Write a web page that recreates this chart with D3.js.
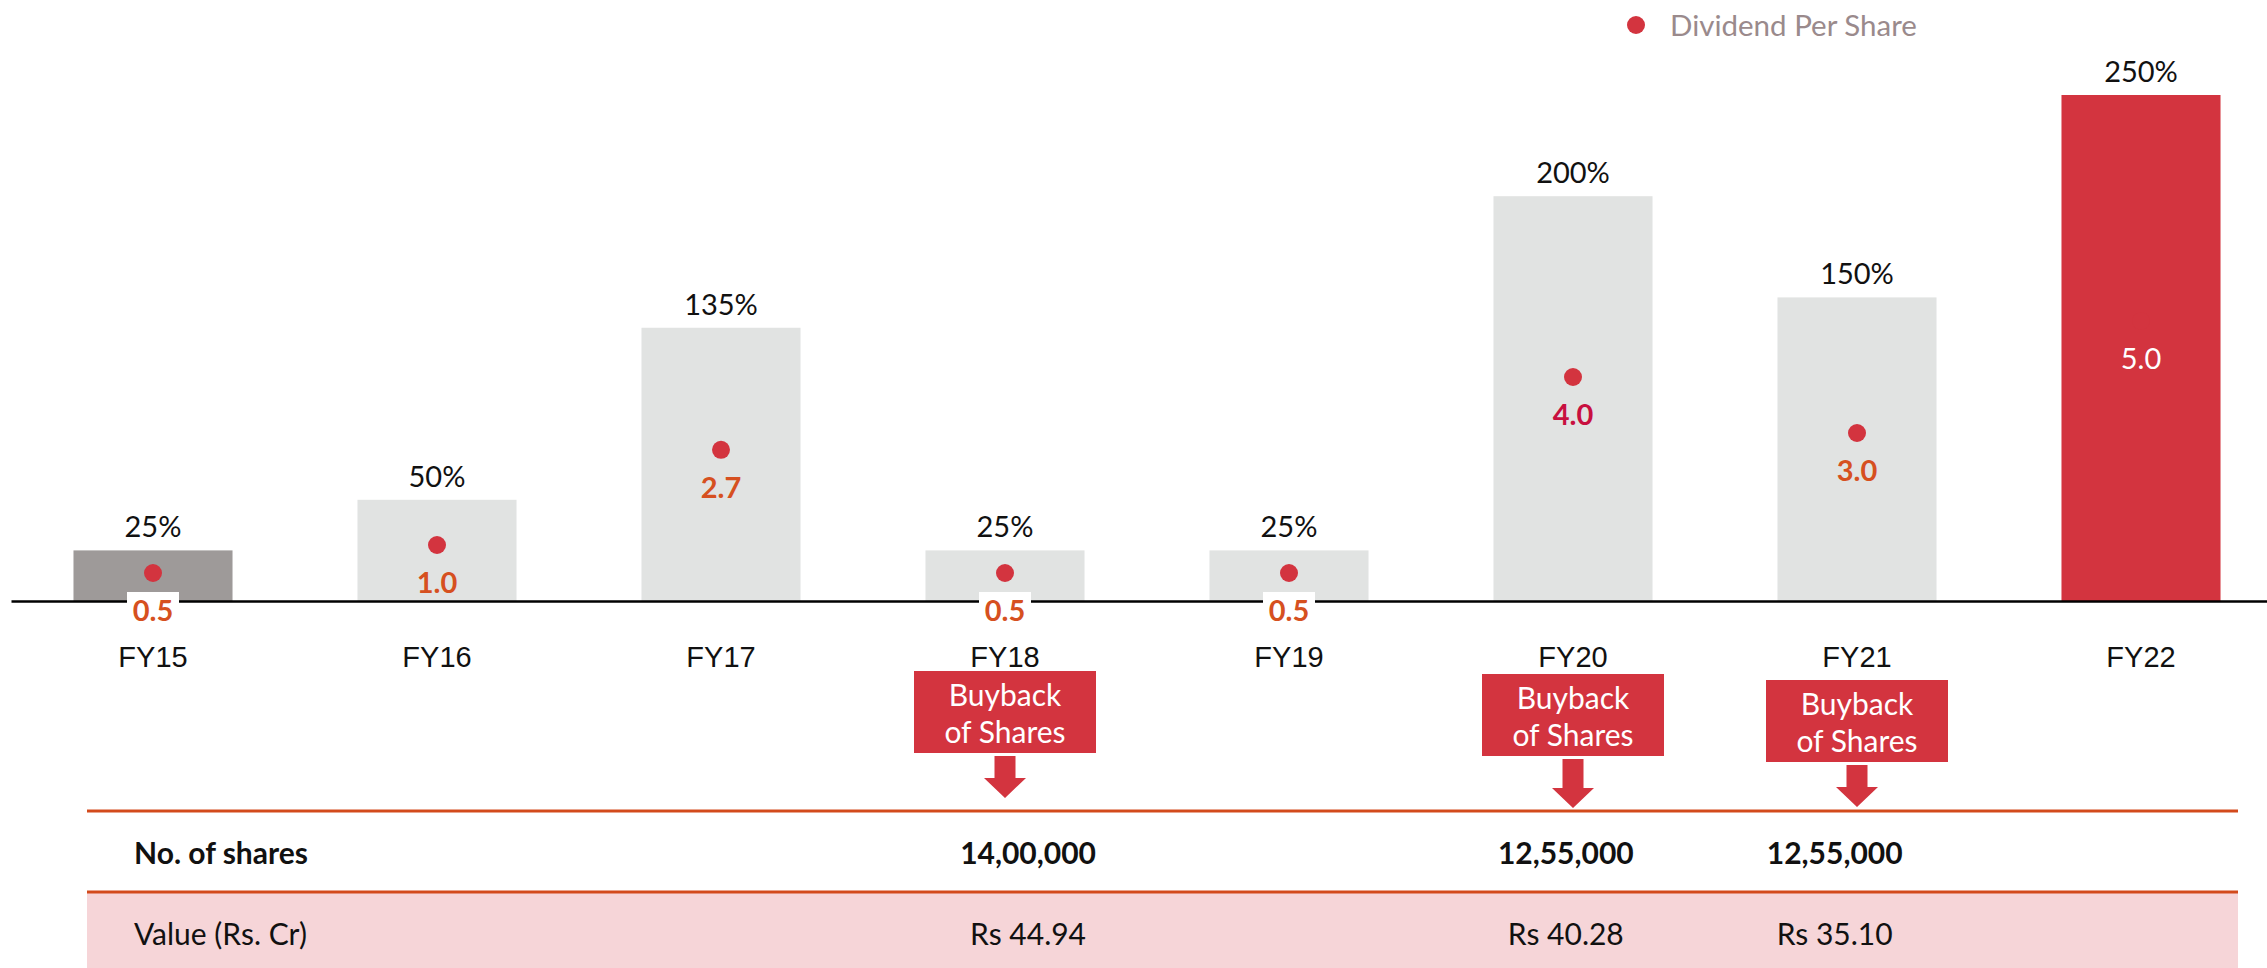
<!DOCTYPE html>
<html>
<head>
<meta charset="utf-8">
<script src="https://cdn.jsdelivr.net/npm/d3@7"></script>
<style>
  html, body { margin: 0; padding: 0; background: #fff; }
  svg { display: block; font-family: Lato, "Noto Sans", sans-serif; }
</style>
</head>
<body>
<div id="chart"></div>
<script>
// data
var years = ["FY15", "FY16", "FY17", "FY18", "FY19", "FY20", "FY21", "FY22"];
var payoutPct = [25, 50, 135, 25, 25, 200, 150, 250];
var dps = [0.5, 1.0, 2.7, 0.5, 0.5, 4.0, 3.0, 5.0];
var buybackYears = ["FY18", "FY20", "FY21"];
var buybackShares = ["14,00,000", "12,55,000", "12,55,000"];
var buybackValue = ["Rs 44.94", "Rs 40.28", "Rs 35.10"];
var rowLabels = ["No. of shares", "Value (Rs. Cr)"];
var legendLabel = "Dividend Per Share";

var width = 2267, height = 968;
var baseY = 601;
var fs = "29px";

var svg = d3.select("#chart").append("svg")
    .attr("width", width)
    .attr("height", height);

//Scales
var x = d3.scaleBand().domain(years).range([11, 2283]).paddingInner(0.44).paddingOuter(0.22);
var y = d3.scaleLinear().domain([0, 250]).range([baseY, 95]);
var yDps = d3.scaleLinear().domain([0, 5]).range([baseY, 321]);
var xTable = d3.scaleBand().domain(years).range([87, 2238]);

var barColor = function(d) {
    if (d == "FY15") return "#9e9a99";
    if (d == "FY22") return "#d3343f";
    return "#e1e3e2";
};

var data = years.map(function(d, i) { return {year: d, pct: payoutPct[i], dps: dps[i]}; });

//Bars
svg.append("g").selectAll("rect")
    .data(data).enter().append("rect")
    .attr("x", function(d) { return x(d.year); })
    .attr("y", function(d) { return y(d.pct); })
    .attr("width", x.bandwidth())
    .attr("height", function(d) { return baseY - y(d.pct); })
    .attr("fill", function(d) { return barColor(d.year); });

//Percent labels
svg.append("g").selectAll("text")
    .data(data).enter().append("text")
    .attr("x", function(d) { return x(d.year) + x.bandwidth() / 2; })
    .attr("y", function(d) { return y(d.pct) - 13; })
    .attr("text-anchor", "middle")
    .style("font-size", fs)
    .style("fill", "#111")
    .text(function(d) { return d.pct + "%"; });

//Axis
var xAxis = d3.axisBottom(x).tickSize(0).tickSizeOuter(0).tickPadding(45);
var axisG = svg.append("g")
    .attr("transform", "translate(0," + baseY + ")")
    .call(xAxis);
axisG.select(".domain").attr("stroke", "#000").attr("stroke-width", 2.5);
axisG.selectAll("text").style("font-size", fs).style("fill", "#111").attr("font-family", null);

//Dividend dots and labels
var cx = function(d) { return x(d.year) + x.bandwidth() / 2; };
svg.append("g").selectAll("circle")
    .data(data).enter().append("circle")
    .attr("cx", cx)
    .attr("cy", function(d) { return yDps(d.dps); })
    .attr("r", 9)
    .attr("fill", "#d3343f");

var lbl = svg.append("g").selectAll("g")
    .data(data).enter().append("g")
    .attr("transform", function(d) { return "translate(" + cx(d) + "," + (yDps(d.dps) + 38) + ")"; });

// white patch where the label sits on the axis line
lbl.filter(function(d) { return yDps(d.dps) + 38 > baseY; })
    .append("rect")
    .attr("x", -26).attr("y", -19)
    .attr("width", 52).attr("height", 38)
    .attr("fill", "#fff");

lbl.append("text")
    .attr("text-anchor", "middle")
    .attr("dy", "0.36em")
    .style("font-size", fs)
    .style("font-weight", function(d) { return d.year == "FY22" ? "normal" : "bold"; })
    .style("fill", function(d) {
        if (d.year == "FY22") return "#fff";
        if (d.year == "FY20") return "#c8103f";
        return "#d65020";
    })
    .text(function(d) { return d3.format(".1f")(d.dps); });

//Legend
var legend = svg.append("g").attr("transform", "translate(1636,25)");
legend.append("circle").attr("r", 9).attr("fill", "#d3343f");
legend.append("text")
    .attr("x", 34).attr("dy", "0.36em")
    .style("font-size", "29.5px")
    .style("fill", "#9a8a8c")
    .text(legendLabel);

//Buyback call-outs
var boxTop = {FY18: 671, FY20: 674, FY21: 680};
var arrowTip = {FY18: 798, FY20: 808, FY21: 807};
var boxW = 182, boxH = 82;

var callout = svg.append("g").selectAll("g")
    .data(buybackYears).enter().append("g")
    .attr("transform", function(d) { return "translate(" + (x(d) + x.bandwidth() / 2) + ",0)"; });

callout.append("rect")
    .attr("x", -boxW / 2)
    .attr("y", function(d) { return boxTop[d]; })
    .attr("width", boxW).attr("height", boxH)
    .attr("fill", "#d3343f");

callout.append("path")
    .attr("d", function(d) {
        var t = boxTop[d] + boxH + 3, tip = arrowTip[d], h = tip - 20;
        return "M-10.5," + t + "H10.5V" + h + "H21L0," + tip + "L-21," + h + "H-10.5Z";
    })
    .attr("fill", "#d3343f");

callout.append("text")
    .attr("y", function(d) { return boxTop[d] + 24; })
    .attr("dy", "0.36em")
    .attr("text-anchor", "middle")
    .style("font-size", "30px")
    .style("fill", "#fff")
    .text("Buyback");

callout.append("text")
    .attr("y", function(d) { return boxTop[d] + 61; })
    .attr("dy", "0.36em")
    .attr("text-anchor", "middle")
    .style("font-size", "30px")
    .style("fill", "#fff")
    .text("of Shares");

//Table
var table = svg.append("g");
table.append("rect")
    .attr("x", 87).attr("y", 892)
    .attr("width", 2238 - 87).attr("height", height - 892)
    .attr("fill", "#f6d5d8");

table.selectAll("line")
    .data([811, 892]).enter().append("line")
    .attr("x1", 87).attr("x2", 2238)
    .attr("y1", function(d) { return d; })
    .attr("y2", function(d) { return d; })
    .attr("stroke", "#d34a1c")
    .attr("stroke-width", 3);

var rowY = [853, 934];
table.selectAll(".rowlabel")
    .data(rowLabels).enter().append("text")
    .attr("class", "rowlabel")
    .attr("x", 134)
    .attr("y", function(d, i) { return rowY[i]; })
    .attr("dy", "0.36em")
    .style("font-size", "30px")
    .style("font-weight", function(d, i) { return i == 0 ? "bold" : "normal"; })
    .style("fill", "#111")
    .text(function(d) { return d; });

table.selectAll(".shares")
    .data(buybackYears).enter().append("text")
    .attr("class", "shares")
    .attr("x", function(d) { return xTable(d) + xTable.bandwidth() / 2; })
    .attr("y", rowY[0])
    .attr("dy", "0.36em")
    .attr("text-anchor", "middle")
    .style("font-size", "30px")
    .style("font-weight", "bold")
    .style("fill", "#111")
    .text(function(d, i) { return buybackShares[i]; });

table.selectAll(".value")
    .data(buybackYears).enter().append("text")
    .attr("class", "value")
    .attr("x", function(d) { return xTable(d) + xTable.bandwidth() / 2; })
    .attr("y", rowY[1])
    .attr("dy", "0.36em")
    .attr("text-anchor", "middle")
    .style("font-size", "30px")
    .style("fill", "#111")
    .text(function(d, i) { return buybackValue[i]; });
</script>
</body>
</html>
